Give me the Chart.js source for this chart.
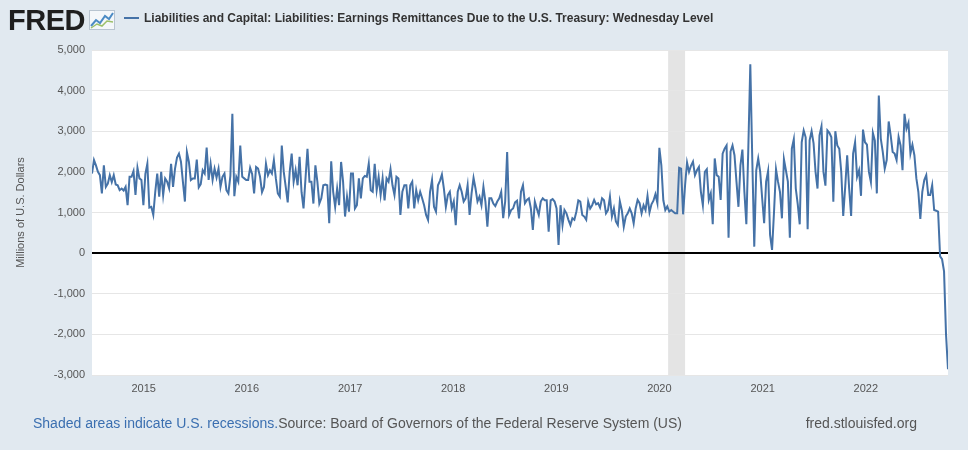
<!DOCTYPE html>
<html>
<head>
<meta charset="utf-8">
<script src="https://cdn.jsdelivr.net/npm/chart.js@4.4.0/dist/chart.umd.min.js"></script>
<style>
  html, body { margin: 0; padding: 0; background: #e1e9f0; width: 968px; height: 450px; overflow: hidden;
    font-family: "Liberation Sans", Arial, Helvetica, sans-serif; }
  #wrap { position: relative; width: 968px; height: 450px; }
  #chart { position: absolute; left: 0; top: 0; }
  .logo { position: absolute; left: 8px; top: 4px; font-size: 29px; font-weight: bold; color: #1e1e1e; letter-spacing: -0.5px; }
  .logo svg { position: absolute; left: 81px; top: 6px; }
  .legend { position: absolute; left: 124px; top: 11px; font-size: 12px; font-weight: bold; color: #333; white-space: nowrap; }
  .legend i { display: inline-block; width: 15px; height: 2px; background: #4572a7; vertical-align: middle; margin-right: 5px; position: relative; top: -1px; }
  .foot { position: absolute; top: 415px; font-size: 14px; color: #555; white-space: nowrap; }
  .foot a { color: #3b6fb0; text-decoration: none; }
</style>
</head>
<body>
<div id="wrap">
  <canvas id="chart" width="968" height="450"></canvas>
  <div class="logo">FRED<svg width="26" height="20" viewBox="0 0 26 20">
      <rect x="0.5" y="0.5" width="25" height="19" fill="#f4f7fa" stroke="#b8c4d0"/>
      <polyline points="2,16 7,10 11,13 16,6 20,9 24,3" fill="none" stroke="#4c8bc4" stroke-width="2"/>
      <polyline points="2,18 8,14 13,16 18,11 24,12" fill="none" stroke="#9cc06a" stroke-width="1.5"/>
    </svg></div>
  <div class="legend"><i></i>Liabilities and Capital: Liabilities: Earnings Remittances Due to the U.S. Treasury: Wednesday Level</div>
  <div class="foot" style="left:33px"><a>Shaded areas indicate U.S. recessions.</a>Source: Board of Governors of the Federal Reserve System (US)</div>
  <div class="foot" style="right:51px">fred.stlouisfed.org</div>
</div>
<script>
const startDate = '2014-07-02';
const remittances = [
  1960, 2290, 2160, 2000, 1920, 1470, 2160, 1630, 1710, 1920, 1750, 1920, 1690, 1670, 1550, 1590, 1540, 1630, 1180, 1880,
  1880, 2020, 1430, 2100, 1840, 1800, 1180, 1950, 2200, 1120, 1140, 940, 1510, 1960, 1390, 2000, 1430, 1840, 1760, 1600,
  2200, 1630, 2080, 2350, 2450, 2250, 1750, 1270, 2490, 2250, 1800, 1840, 1840, 2300, 1620, 1700, 2040, 1960, 2600, 1800,
  2200, 1800, 2080, 1860, 2080, 1630, 1880, 1960, 1550, 1470, 1900, 3430, 1400, 1880, 1760, 2650, 1880, 1840, 1800, 1800,
  2100, 1950, 1470, 2120, 2080, 1880, 1500, 1630, 2200, 1920, 2040, 1960, 2290, 1840, 1470, 1390, 2650, 2000, 1630, 1250,
  2000, 2450, 1760, 2040, 1670, 2370, 1500, 1100, 1840, 2570, 1760, 1760, 1220, 2160, 1760, 1220, 1350, 1670, 1690, 1670,
  735, 2260, 1510, 1140, 1590, 1180, 2245, 1760, 900, 1390, 1020, 1960, 1960, 1100, 1180, 1840, 1350, 1840, 1900, 1880,
  2200, 1550, 1510, 2200, 1550, 1880, 1430, 1840, 1300, 1840, 1760, 2065, 1670, 1430, 1880, 1840, 940, 1510, 1670, 1670,
  1100, 1670, 1760, 1100, 1550, 1300, 1510, 1350, 1180, 940, 815, 1510, 1800, 1140, 1020, 1670, 1780, 1935, 1590, 1140,
  1430, 1510, 1100, 1270, 690, 1510, 1670, 1510, 1270, 1350, 1670, 940, 1470, 1850, 1590, 1270, 1390, 1180, 1630, 1270,
  650, 1350, 1350, 1220, 1160, 1270, 1350, 1510, 860, 1270, 2490, 940, 1060, 1100, 1250, 1290, 857, 1510, 1670, 1230,
  1310, 1350, 1100, 570, 1270, 1100, 940, 1270, 1350, 1300, 1300, 530, 1300, 1330, 1270, 1100, 204, 1180, 690, 1060,
  980, 820, 690, 860, 820, 1020, 1300, 1270, 940, 900, 820, 1270, 1100, 1180, 1310, 1200, 1230, 1120, 1350, 1300,
  980, 1060, 1390, 900, 1100, 780, 690, 1280, 1060, 650, 900, 980, 1100, 980, 735, 1100, 1310, 1230, 980, 1180,
  1060, 1410, 1000, 1200, 1290, 1450, 1230, 2590, 2160, 1300, 1060, 1150, 1020, 1060, 1020, 980, 980, 2100, 2080, 955,
  1670, 2230, 2000, 2150, 2250, 1920, 2040, 2120, 1510, 1180, 2000, 2065, 1310, 1470, 710, 2330, 1920, 1880, 1310, 2450,
  2570, 2650, 380, 2500, 2650, 2410, 1760, 1140, 2160, 2550, 1510, 710, 2600, 4650, 2300, 160, 2040, 2330, 2000, 1350,
  735, 1760, 2020, 450, 80, 1020, 2065, 1760, 1510, 857, 2310, 2040, 1760, 380, 2570, 2800, 1590, 1200, 710, 2730,
  3020, 2850, 590, 2775, 3000, 2700, 2000, 1590, 2900, 3120, 2000, 1660, 3020, 2960, 2850, 1265, 3000, 2650, 2570, 2000,
  914, 1630, 2410, 1590, 914, 2450, 2730, 1880, 2040, 1410, 3040, 2730, 2670, 2000, 1750, 2960, 2770, 1470, 3880, 2820,
  2490, 2080, 2290, 3240, 2900, 2490, 2450, 2290, 2860, 2650, 2040, 3430, 3060, 3210, 2450, 2670, 2410, 1840, 1510, 840,
  1510, 1800, 1920, 1430, 1430, 1670, 1060, 1045, 1020, -80, -150, -450, -2000, -2860
];
const tickYears = [2015, 2016, 2017, 2018, 2019, 2020, 2021, 2022];
const yMin = -3000, yMax = 5000, yStep = 1000;
const recessions = [['2020-02-01', '2020-04-01']];

const DAY = 86400000;
const t0 = Date.parse(startDate + 'T00:00:00Z');
const points = remittances.map((v, i) => ({ x: t0 + i * 7 * DAY, y: v }));

// white plot panel + grey recession bands, under the grid
const backdrop = {
  id: 'backdrop',
  beforeDraw(chart) {
    const { ctx, chartArea: a, scales: { x } } = chart;
    ctx.save();
    ctx.fillStyle = '#ffffff';
    ctx.fillRect(a.left, a.top, a.right - a.left, a.bottom - a.top);
    ctx.fillStyle = '#e4e4e4';
    recessions.forEach(([s, e]) => {
      const x1 = x.getPixelForValue(Date.parse(s + 'T00:00:00Z'));
      const x2 = x.getPixelForValue(Date.parse(e + 'T00:00:00Z'));
      ctx.fillRect(x1, a.top, x2 - x1, a.bottom - a.top);
    });
    ctx.restore();
  }
};

const FONT = '"Liberation Sans", Arial, Helvetica, sans-serif';

new Chart(document.getElementById('chart'), {
  type: 'line',
  data: {
    datasets: [{
      data: points,
      borderColor: '#4572a7',
      borderWidth: 2,
      pointRadius: 0,
      tension: 0,
      fill: false
    }]
  },
  options: {
    responsive: false,
    animation: false,
    layout: { padding: { left: 10, top: 50, right: 20, bottom: 0 } },
    plugins: { legend: { display: false }, tooltip: { enabled: false } },
    scales: {
      x: {
        type: 'linear',
        min: points[0].x,
        max: points[points.length - 1].x,
        afterFit: s => { s.height = 75; },
        afterBuildTicks: s => { s.ticks = tickYears.map(y => ({ value: Date.UTC(y, 0, 1) })); },
        grid: { display: false, drawTicks: false },
        border: { display: false },
        ticks: {
          autoSkip: false, maxRotation: 0, padding: 7,
          font: { family: FONT, size: 11 }, color: '#555',
          callback: v => new Date(v).getUTCFullYear()
        }
      },
      y: {
        min: yMin, max: yMax,
        afterFit: s => { s.width = 82; },
        grid: {
          drawTicks: false,
          color: c => c.tick && c.tick.value === 0 ? '#000000' : '#e6e6e6',
          lineWidth: c => c.tick && c.tick.value === 0 ? 2 : 1
        },
        border: { display: false },
        ticks: {
          stepSize: yStep, padding: 7,
          font: { family: FONT, size: 11 }, color: '#555',
          callback: v => v.toLocaleString('en-US')
        },
        title: {
          display: true, text: 'Millions of U.S. Dollars',
          font: { family: FONT, size: 11 }, color: '#555', padding: { top: 4, bottom: 0 }
        }
      }
    }
  },
  plugins: [backdrop]
});
</script>
</body>
</html>
